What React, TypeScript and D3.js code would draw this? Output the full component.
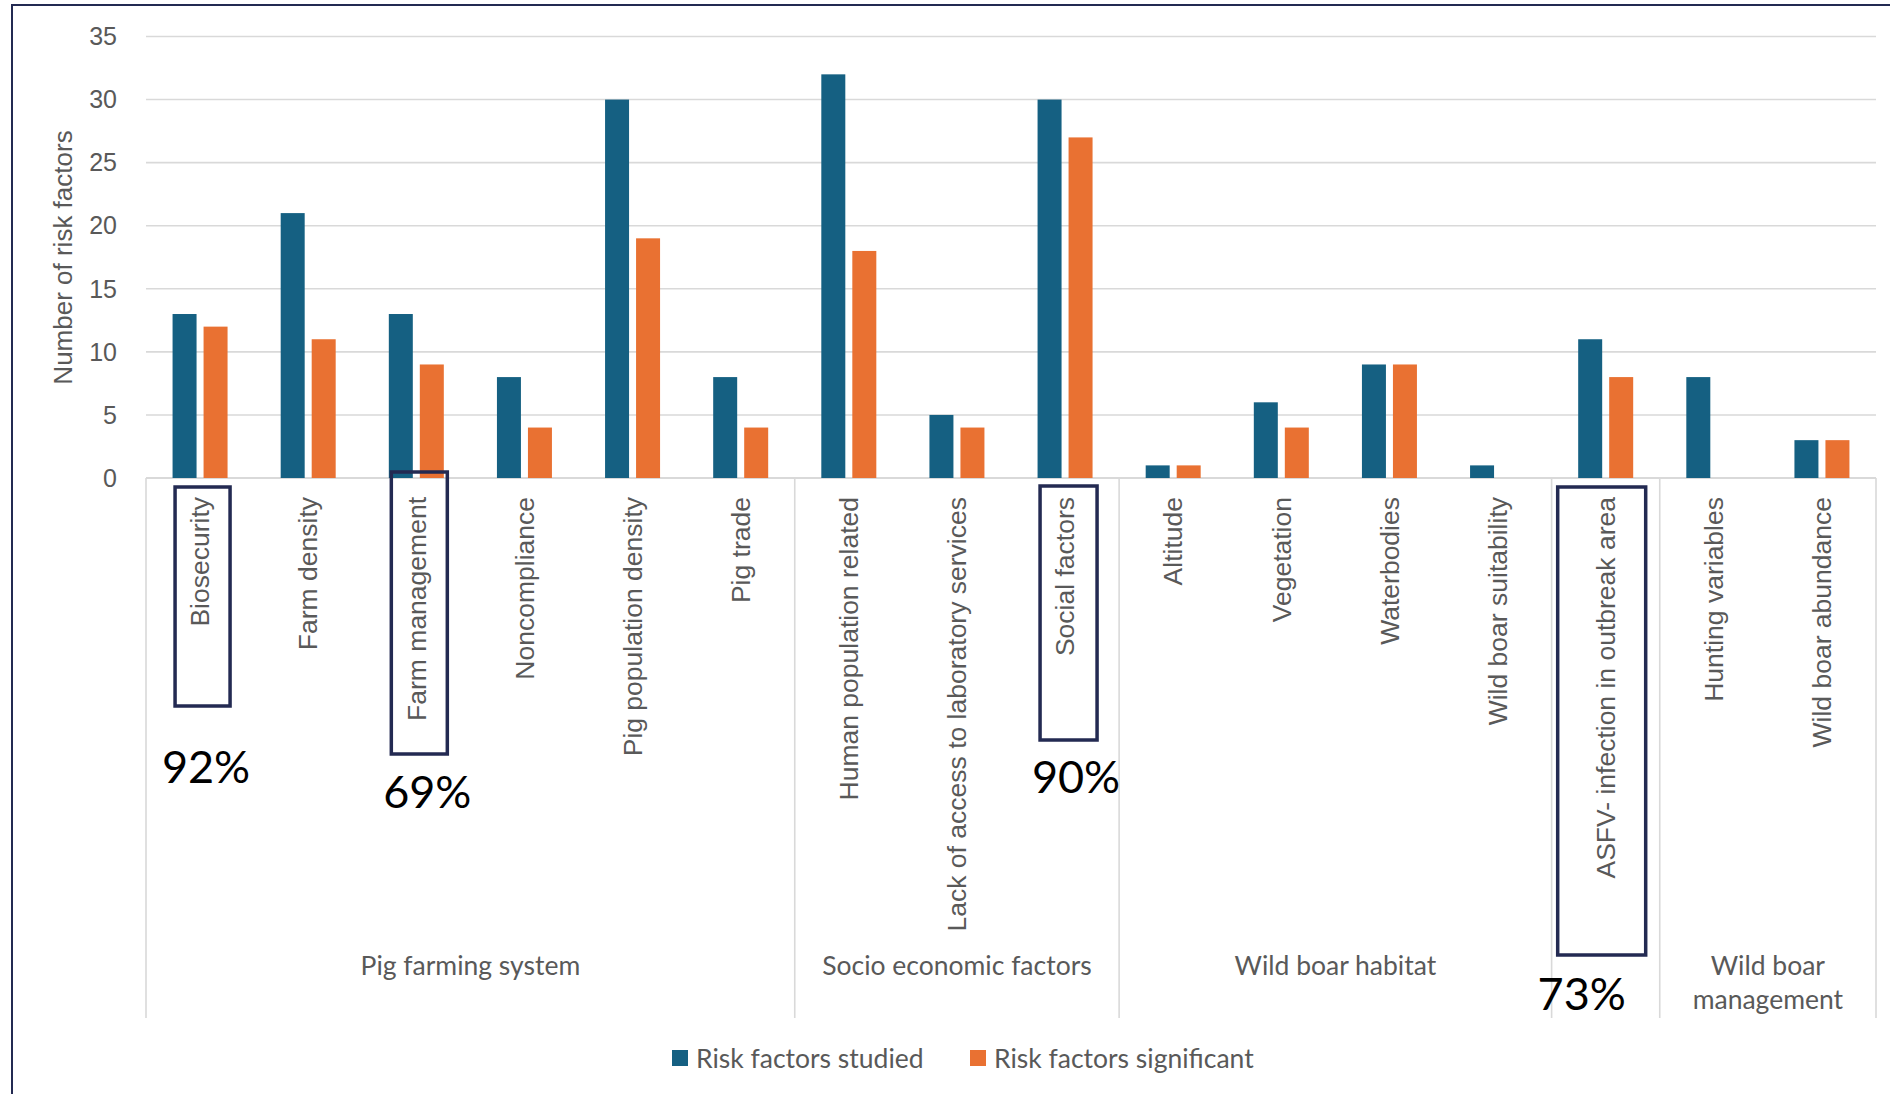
import React from "react";
import * as d3 from "d3";

const categories = [
  "Biosecurity",
  "Farm density",
  "Farm management",
  "Noncompliance",
  "Pig population density",
  "Pig trade",
  "Human population related",
  "Lack of access to laboratory services",
  "Social factors",
  "Altitude",
  "Vegetation",
  "Waterbodies",
  "Wild boar suitability",
  "ASFV- infection in outbreak area",
  "Hunting variables",
  "Wild boar abundance",
];
const studied = [13, 21, 13, 8, 30, 8, 32, 5, 30, 1, 6, 9, 1, 11, 8, 3];
const significant = [12, 11, 9, 4, 19, 4, 18, 4, 27, 1, 4, 9, 0, 8, 0, 3];
const groupNames = [
  ["Pig farming system"],
  ["Socio economic factors"],
  ["Wild boar habitat"],
  [],
  ["Wild boar", "management"],
];
const groupSizes = [6, 3, 4, 1, 2];
const seriesNames = ["Risk factors studied", "Risk factors significant"];
const seriesColors = ["#156082", "#E97132"];
const yTicks = [0, 5, 10, 15, 20, 25, 30, 35];
const yTitle = "Number of risk factors";
const highlights = ["Biosecurity", "Farm management", "Social factors", "ASFV- infection in outbreak area"];
const highlightPct = ["92%", "69%", "90%", "73%"];

const W = 1890;
const H = 1094;
const PL = 146;
const PR = 1876;
const Y0 = 478;
const Y35 = 36.5;
const SEP_BOTTOM = 1018;

// layout for annotation boxes: dx from category center, width, top, bottom; pct label dx & baseline
const boxLayout = [
  { dx: 2.5, w: 55, top: 487, bottom: 706, px: 6, pb: 783 },
  { dx: 3, w: 56, top: 472, bottom: 754, px: 11, pb: 808 },
  { dx: 3.5, w: 57, top: 486, bottom: 740, px: 11, pb: 793 },
  { dx: -4, w: 88, top: 487, bottom: 955, px: -24, pb: 1010 },
];

const ARIAL = "'Liberation Sans', Arial, sans-serif";
const APTOS = "Lato, 'Open Sans', sans-serif";
const GREY = "#595959";
const GRID = "#D9D9D9";
const NAVY = "#232a52";

export default function App() {
  const x = d3.scaleBand<string>().domain(categories).range([PL, PR]).paddingInner(0).paddingOuter(0);
  const step = x.step();
  const xs = d3
    .scaleBand<string>()
    .domain(seriesNames)
    .range([-27.5, 27.5])
    .paddingInner(0.226);
  const y = d3.scaleLinear().domain([0, 35]).range([Y0, Y35]);

  const cx = (c: string) => (x(c) as number) + step / 2;

  const boundaries: number[] = [PL];
  const groupCenters: number[] = [];
  let acc = 0;
  groupSizes.forEach((n) => {
    const start = PL + acc * step;
    acc += n;
    const end = PL + acc * step;
    boundaries.push(end);
    groupCenters.push((start + end) / 2);
  });

  const values = [studied, significant];

  return (
    <svg
      width={W}
      height={H}
      style={{ position: "absolute", left: 0, top: 0, background: "#fff" }}
    >
      <rect x={0} y={0} width={W} height={H} fill="#fff" />
      <path d={`M12,${H + 5} L12,5 L${W + 5},5`} fill="none" stroke={NAVY} strokeWidth={2} />

      {yTicks.map((t) => (
        <g key={t}>
          <line x1={PL} x2={PR} y1={y(t)} y2={y(t)} stroke={GRID} strokeWidth={t === 0 ? 2 : 1.6} />
          <text
            x={117}
            y={y(t)}
            dy="0.35em"
            textAnchor="end"
            fontFamily={ARIAL}
            fontSize={25}
            fill={GREY}
          >
            {t}
          </text>
        </g>
      ))}

      <text
        transform={`translate(63,257.5) rotate(-90)`}
        textAnchor="middle"
        dy="0.35em"
        fontFamily={ARIAL}
        fontSize={26}
        fill={GREY}
      >
        {yTitle}
      </text>

      {boundaries.map((b, i) => (
        <line key={i} x1={b} x2={b} y1={Y0} y2={SEP_BOTTOM} stroke={GRID} strokeWidth={1.6} />
      ))}

      {categories.map((c, i) =>
        seriesNames.map((s, j) => {
          const v = values[j][i];
          if (!v) return null;
          return (
            <rect
              key={c + s}
              x={cx(c) + (xs(s) as number)}
              y={y(v)}
              width={xs.bandwidth()}
              height={Y0 - y(v)}
              fill={seriesColors[j]}
            />
          );
        })
      )}

      {categories.map((c) => (
        <text
          key={c}
          transform={`translate(${cx(c)},497) rotate(-90)`}
          textAnchor="end"
          dy="0.35em"
          fontFamily={ARIAL}
          fontSize={26.5}
          fill={GREY}
        >
          {c}
        </text>
      ))}

      {groupNames.map((lines, gi) =>
        lines.map((ln, li) => (
          <text
            key={gi + "-" + li}
            x={groupCenters[gi]}
            y={975 + li * 34}
            textAnchor="middle"
            fontFamily={APTOS}
            fontSize={26.5}
            fill={GREY}
          >
            {ln}
          </text>
        ))
      )}

      {highlights.map((c, i) => {
        const L = boxLayout[i];
        const center = cx(c) + L.dx;
        return (
          <g key={c}>
            <rect
              x={center - L.w / 2}
              y={L.top}
              width={L.w}
              height={L.bottom - L.top}
              fill="none"
              stroke={NAVY}
              strokeWidth={3.5}
            />
            <text
              x={cx(c) + L.px}
              y={L.pb}
              textAnchor="middle"
              fontFamily={APTOS}
              fontSize={45}
              fill="#000"
            >
              {highlightPct[i]}
            </text>
          </g>
        );
      })}

      {seriesNames.map((s, j) => {
        const lx = j === 0 ? 672 : 970;
        return (
          <g key={s}>
            <rect x={lx} y={1050} width={16} height={16} fill={seriesColors[j]} />
            <text x={lx + 24} y={1068} fontFamily={APTOS} fontSize={26.5} fill={GREY}>
              {s}
            </text>
          </g>
        );
      })}
    </svg>
  );
}
